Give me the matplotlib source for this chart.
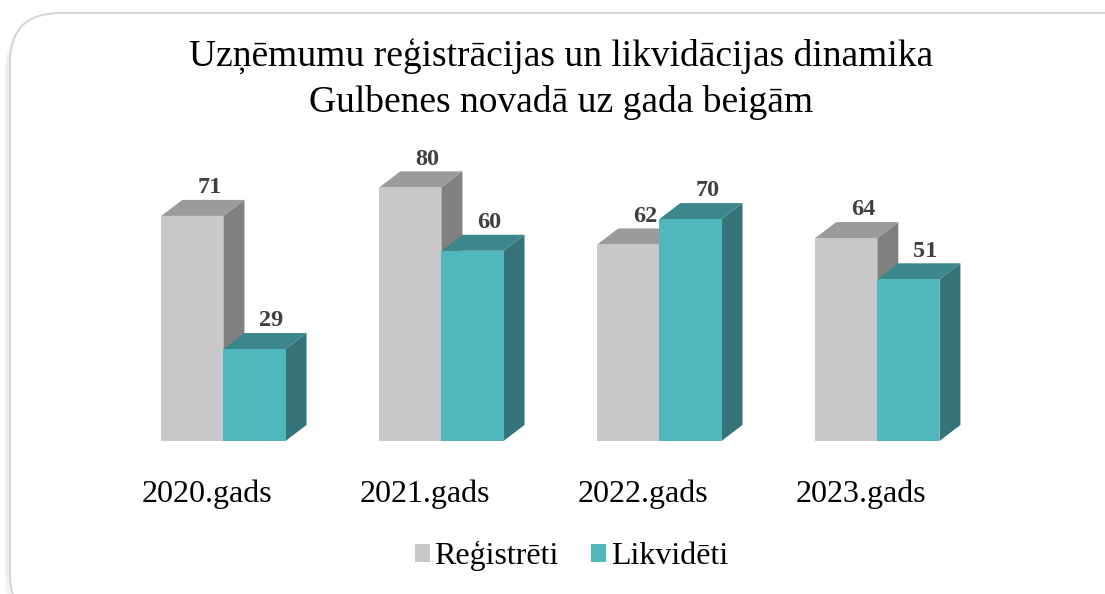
import numpy as np
import matplotlib
matplotlib.use("Agg")
import matplotlib.pyplot as plt
from matplotlib.patches import Polygon, FancyBboxPatch, Patch

# Dati
gadi = ["2020.gads", "2021.gads", "2022.gads", "2023.gads"]
registreti = [71, 80, 62, 64]
likvideti = [29, 60, 70, 51]
serijas = ["Reģistrēti", "Likvidēti"]

# Krāsas: priekša, augša, sāns
krasas = [
    ("#c8c8c8", "#9b9b9b", "#808080"),
    ("#4fb7bd", "#3c878c", "#37747a"),
]

plt.rcParams['font.family'] = ['Liberation Serif', 'DejaVu Serif']

fig = plt.figure(figsize=(11.05, 5.94), dpi=100)

# ramis ar ēnu
for i, a in enumerate([0.04, 0.03, 0.02]):
    off = (i + 1) * 0.0022
    ena = FancyBboxPatch((0.009 - off * 0.6, -0.05 - off), 1.05, 1.018,
                         boxstyle="round,pad=0,rounding_size=0.045",
                         transform=fig.transFigure, facecolor="none",
                         edgecolor="black", alpha=a, lw=2.0, zorder=-3,
                         mutation_aspect=1105 / 594)
    fig.patches.append(ena)
ramis = FancyBboxPatch((0.009, -0.05), 1.05, 1.028,
                       boxstyle="round,pad=0,rounding_size=0.045",
                       transform=fig.transFigure, facecolor="white",
                       edgecolor="#d6d6d6", lw=1.5, zorder=-2,
                       mutation_aspect=1105 / 594)
fig.patches.append(ramis)

ax = fig.add_axes([0.1036, 0.2576, 0.789, 0.5337])
ax.set_zorder(1)
ax.patch.set_visible(False)
ax.set_xlim(-0.5, 3.5)
ax.set_ylim(0, 100)
ax.axis("off")

w = 0.285   # stabiņa platums
dx = 0.0963  # dziļums x
dy = 5.05    # dziļums y

x = np.arange(len(gadi))
for s, vertibas in enumerate([registreti, likvideti]):
    priek, augs, sans = krasas[s]
    xc = x + (s - 0.5) * w
    z = 3 + s * 3
    ax.bar(xc, vertibas, width=w, color=priek, zorder=z + 2, linewidth=0)
    for xi, h in zip(xc, vertibas):
        x0, x1 = xi - w / 2, xi + w / 2
        ax.add_patch(Polygon([(x0, h), (x1, h), (x1 + dx, h + dy), (x0 + dx, h + dy)],
                             closed=True, facecolor=augs, edgecolor="none", zorder=z + 1))
        ax.add_patch(Polygon([(x1, 0), (x1 + dx, dy), (x1 + dx, h + dy), (x1, h)],
                             closed=True, facecolor=sans, edgecolor="none", zorder=z))
        ax.text(xi + dx / 2 + 0.03, h + dy + 0.5, str(h), ha="center", va="bottom",
                fontsize=17.5, fontweight="bold", color="#404040", zorder=20)

for xi, g in zip(x, gadi):
    ax.text(xi - 0.075, -19.2, g, ha="center", va="baseline", fontsize=23,
            color="black", clip_on=False)

fig.text(0.508, 1 - 67 / 594, "Uzņēmumu reģistrācijas un likvidācijas dinamika",
         ha="center", va="baseline", fontsize=27)
fig.text(0.508, 1 - 112 / 594, "Gulbenes novadā uz gada beigām",
         ha="center", va="baseline", fontsize=27)

rokt = [Patch(facecolor=krasas[0][0]), Patch(facecolor=krasas[1][0])]
fig.legend(rokt, serijas, loc="center", bbox_to_anchor=(0.517, 1 - 556 / 594),
           ncol=2, frameon=False, fontsize=23, handlelength=0.47, handleheight=0.47,
           handletextpad=0.15, columnspacing=1.0)

fig.savefig("out.png", dpi=100)
